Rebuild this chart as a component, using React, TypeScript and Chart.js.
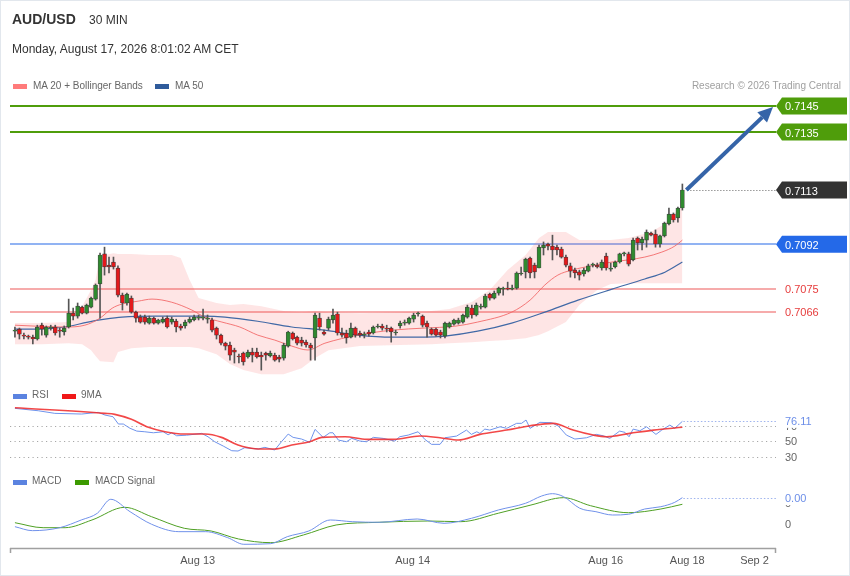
import React, { useEffect, useRef } from "react";
import { Chart, registerables } from "chart.js";

Chart.register(...registerables);

const FONT = '"Liberation Sans", Arial, Helvetica, sans-serif';

// ---------------- Candles (AUD/USD, 30 min) ----------------
const opens = [
  0.70587, 0.70595, 0.70572, 0.70568, 0.70564, 0.70557, 0.70610, 0.70572, 0.70599, 0.70603,
  0.70591, 0.70584, 0.70603, 0.70656, 0.70645, 0.70679, 0.70656, 0.70679, 0.70710, 0.70768,
  0.70883, 0.70840, 0.70852, 0.70829, 0.70725, 0.70695, 0.70714, 0.70660, 0.70641, 0.70641,
  0.70618, 0.70637, 0.70618, 0.70622, 0.70637, 0.70622, 0.70626, 0.70607, 0.70607, 0.70622,
  0.70630, 0.70637, 0.70637, 0.70633, 0.70630, 0.70599, 0.70572, 0.70541, 0.70534, 0.70515,
  0.70492, 0.70503, 0.70488, 0.70507, 0.70507, 0.70495, 0.70503, 0.70492, 0.70495, 0.70488,
  0.70484, 0.70530, 0.70580, 0.70564, 0.70553, 0.70545, 0.70534, 0.70561, 0.70637, 0.70584,
  0.70599, 0.70630, 0.70653, 0.70580, 0.70580, 0.70564, 0.70599, 0.70580, 0.70572, 0.70584,
  0.70580, 0.70603, 0.70607, 0.70599, 0.70599, 0.70580, 0.70607, 0.70618, 0.70618, 0.70633,
  0.70653, 0.70645, 0.70618, 0.70595, 0.70595, 0.70584, 0.70568, 0.70603, 0.70614, 0.70618,
  0.70622, 0.70641, 0.70676, 0.70649, 0.70679, 0.70679, 0.70729, 0.70714, 0.70733, 0.70748,
  0.70752, 0.70748, 0.70752, 0.70806, 0.70814, 0.70867, 0.70840, 0.70829, 0.70906, 0.70921,
  0.70913, 0.70909, 0.70902, 0.70871, 0.70837, 0.70821, 0.70814, 0.70806, 0.70817, 0.70840,
  0.70840, 0.70829, 0.70875, 0.70825, 0.70833, 0.70852, 0.70883, 0.70883, 0.70860, 0.70944,
  0.70925, 0.70936, 0.70963, 0.70959, 0.70921, 0.70952, 0.70998, 0.71036, 0.71021, 0.71059,
];
const highs = [
  0.70603, 0.70599, 0.70580, 0.70572, 0.70572, 0.70610, 0.70618, 0.70607, 0.70610, 0.70610,
  0.70599, 0.70607, 0.70710, 0.70676, 0.70695, 0.70683, 0.70691, 0.70718, 0.70768, 0.70886,
  0.70909, 0.70871, 0.70871, 0.70837, 0.70733, 0.70733, 0.70722, 0.70664, 0.70649, 0.70649,
  0.70645, 0.70641, 0.70633, 0.70641, 0.70645, 0.70641, 0.70633, 0.70614, 0.70630, 0.70641,
  0.70649, 0.70649, 0.70672, 0.70649, 0.70637, 0.70603, 0.70576, 0.70545, 0.70545, 0.70522,
  0.70499, 0.70507, 0.70515, 0.70522, 0.70522, 0.70507, 0.70507, 0.70511, 0.70503, 0.70495,
  0.70541, 0.70587, 0.70584, 0.70568, 0.70564, 0.70553, 0.70541, 0.70656, 0.70656, 0.70591,
  0.70641, 0.70672, 0.70660, 0.70599, 0.70591, 0.70618, 0.70603, 0.70587, 0.70584, 0.70591,
  0.70607, 0.70614, 0.70614, 0.70610, 0.70603, 0.70591, 0.70626, 0.70630, 0.70641, 0.70656,
  0.70660, 0.70649, 0.70626, 0.70599, 0.70599, 0.70591, 0.70622, 0.70622, 0.70633, 0.70637,
  0.70653, 0.70687, 0.70687, 0.70695, 0.70691, 0.70729, 0.70733, 0.70741, 0.70756, 0.70756,
  0.70775, 0.70764, 0.70814, 0.70833, 0.70867, 0.70871, 0.70848, 0.70917, 0.70929, 0.70925,
  0.70955, 0.70917, 0.70909, 0.70879, 0.70848, 0.70829, 0.70821, 0.70829, 0.70844, 0.70848,
  0.70848, 0.70860, 0.70886, 0.70848, 0.70856, 0.70886, 0.70890, 0.70890, 0.70944, 0.70948,
  0.70948, 0.70975, 0.70967, 0.70975, 0.70955, 0.71005, 0.71059, 0.71040, 0.71063, 0.71151,
];
const lows = [
  0.70564, 0.70557, 0.70557, 0.70557, 0.70538, 0.70553, 0.70572, 0.70564, 0.70591, 0.70572,
  0.70564, 0.70572, 0.70599, 0.70630, 0.70637, 0.70653, 0.70653, 0.70676, 0.70706, 0.70637,
  0.70802, 0.70810, 0.70825, 0.70718, 0.70668, 0.70687, 0.70656, 0.70622, 0.70618, 0.70614,
  0.70614, 0.70614, 0.70614, 0.70618, 0.70599, 0.70614, 0.70584, 0.70591, 0.70599, 0.70618,
  0.70626, 0.70630, 0.70630, 0.70618, 0.70584, 0.70557, 0.70534, 0.70515, 0.70476, 0.70465,
  0.70465, 0.70457, 0.70484, 0.70469, 0.70484, 0.70438, 0.70476, 0.70488, 0.70472, 0.70469,
  0.70476, 0.70526, 0.70553, 0.70534, 0.70530, 0.70526, 0.70476, 0.70476, 0.70591, 0.70572,
  0.70591, 0.70618, 0.70572, 0.70564, 0.70541, 0.70561, 0.70564, 0.70564, 0.70561, 0.70568,
  0.70576, 0.70599, 0.70591, 0.70584, 0.70545, 0.70572, 0.70599, 0.70610, 0.70614, 0.70622,
  0.70645, 0.70603, 0.70564, 0.70572, 0.70568, 0.70561, 0.70561, 0.70599, 0.70610, 0.70614,
  0.70618, 0.70637, 0.70637, 0.70645, 0.70672, 0.70676, 0.70706, 0.70710, 0.70725, 0.70725,
  0.70745, 0.70745, 0.70748, 0.70802, 0.70791, 0.70791, 0.70791, 0.70829, 0.70879, 0.70898,
  0.70860, 0.70879, 0.70867, 0.70833, 0.70794, 0.70791, 0.70783, 0.70798, 0.70814, 0.70833,
  0.70829, 0.70821, 0.70821, 0.70817, 0.70829, 0.70848, 0.70875, 0.70837, 0.70856, 0.70898,
  0.70898, 0.70909, 0.70952, 0.70909, 0.70909, 0.70948, 0.70994, 0.71005, 0.71005, 0.71051,
];
const closes = [
  0.70591, 0.70576, 0.70568, 0.70564, 0.70557, 0.70603, 0.70595, 0.70603, 0.70603, 0.70580,
  0.70587, 0.70599, 0.70656, 0.70645, 0.70683, 0.70656, 0.70687, 0.70714, 0.70764, 0.70879,
  0.70833, 0.70833, 0.70833, 0.70725, 0.70695, 0.70729, 0.70660, 0.70637, 0.70622, 0.70622,
  0.70637, 0.70618, 0.70630, 0.70633, 0.70603, 0.70633, 0.70603, 0.70599, 0.70622, 0.70633,
  0.70641, 0.70641, 0.70641, 0.70637, 0.70591, 0.70572, 0.70541, 0.70530, 0.70495, 0.70507,
  0.70488, 0.70469, 0.70507, 0.70495, 0.70488, 0.70488, 0.70495, 0.70503, 0.70476, 0.70480,
  0.70534, 0.70584, 0.70557, 0.70541, 0.70541, 0.70534, 0.70522, 0.70649, 0.70603, 0.70576,
  0.70633, 0.70649, 0.70580, 0.70572, 0.70561, 0.70599, 0.70572, 0.70572, 0.70576, 0.70576,
  0.70603, 0.70607, 0.70599, 0.70595, 0.70584, 0.70584, 0.70618, 0.70622, 0.70637, 0.70649,
  0.70656, 0.70610, 0.70603, 0.70576, 0.70572, 0.70572, 0.70618, 0.70618, 0.70630, 0.70630,
  0.70649, 0.70679, 0.70649, 0.70687, 0.70683, 0.70722, 0.70714, 0.70733, 0.70752, 0.70752,
  0.70748, 0.70752, 0.70810, 0.70810, 0.70863, 0.70810, 0.70814, 0.70909, 0.70917, 0.70913,
  0.70898, 0.70898, 0.70871, 0.70840, 0.70817, 0.70810, 0.70802, 0.70821, 0.70837, 0.70844,
  0.70833, 0.70852, 0.70829, 0.70829, 0.70852, 0.70883, 0.70886, 0.70844, 0.70936, 0.70925,
  0.70940, 0.70967, 0.70955, 0.70921, 0.70952, 0.71001, 0.71036, 0.71013, 0.71059, 0.71128,
];

// ---------------- Bollinger Bands (20) ----------------
const bandIdx = [0, 6, 12, 15, 17, 18, 19, 22, 23, 26, 30, 35, 37, 39, 41, 45, 48, 51, 55, 60, 64, 67, 70, 77, 86, 93, 97, 102, 106, 110, 114, 117, 119, 123, 126, 130, 133, 137, 142, 145, 149];
const bandUpper = [
  0.70618, 0.70618, 0.70622, 0.70683, 0.70745, 0.70783, 0.70875, 0.70886, 0.70883, 0.70883,
  0.70879, 0.70879, 0.70867, 0.70783, 0.70714, 0.70695, 0.70687, 0.70691, 0.70683, 0.70664,
  0.70660, 0.70664, 0.70660, 0.70656, 0.70660, 0.70664, 0.70672, 0.70699, 0.70745, 0.70821,
  0.70879, 0.70944, 0.70967, 0.70967, 0.70936, 0.70936, 0.70936, 0.70944, 0.70967, 0.70998,
  0.71070,
];
const bandLower = [
  0.70537, 0.70537, 0.70541, 0.70537, 0.70514, 0.70492, 0.70472, 0.70468, 0.70507, 0.70522,
  0.70526, 0.70526, 0.70526, 0.70526, 0.70522, 0.70499, 0.70461, 0.70438, 0.70422, 0.70422,
  0.70445, 0.70484, 0.70514, 0.70530, 0.70534, 0.70537, 0.70541, 0.70545, 0.70549, 0.70553,
  0.70560, 0.70572, 0.70587, 0.70622, 0.70687, 0.70745, 0.70768, 0.70771, 0.70771, 0.70771,
  0.70771,
];

// ---------------- Moving averages ----------------
const ma20Idx = [0, 5.1, 11.2, 15.6, 19, 21.7, 23.9, 27.5, 30.6, 35, 39.5, 42.4, 46.2, 50.2, 54.2, 58, 61.8, 65.4, 69.2, 76.6, 84.2, 91.5, 98.2, 103.3, 110.9, 115, 118.3, 121.2, 124.3, 129.5, 133.3, 136.8, 140.6, 144.4, 147.3, 149];
const ma20Val = [
  0.70610, 0.70606, 0.70603, 0.70610, 0.70637, 0.70675, 0.70691, 0.70702, 0.70710, 0.70698,
  0.70668, 0.70641, 0.70622, 0.70603, 0.70572, 0.70553, 0.70530, 0.70515, 0.70541, 0.70572,
  0.70591, 0.70599, 0.70606, 0.70622, 0.70660, 0.70706, 0.70764, 0.70802, 0.70821, 0.70840,
  0.70852, 0.70860, 0.70871, 0.70890, 0.70913, 0.70936,
];
const ma50Idx = [0, 5.1, 11.2, 16.3, 20.1, 23.9, 31.3, 42.4, 46.9, 54.2, 61.8, 69.2, 76.6, 84.2, 91.5, 96, 103.3, 110.9, 118.3, 125.7, 133.3, 140.6, 145.1, 149];
const ma50Val = [
  0.70595, 0.70595, 0.70603, 0.70622, 0.70633, 0.70641, 0.70645, 0.70645, 0.70641, 0.70625,
  0.70603, 0.70591, 0.70572, 0.70564, 0.70564, 0.70568, 0.70587, 0.70618, 0.70660, 0.70706,
  0.70748, 0.70787, 0.70813, 0.70852,
];

// ---------------- Levels ----------------
const levelValues = [0.7145, 0.7135, 0.7092, 0.7075, 0.7066];

// ---------------- RSI ----------------
const rsiIdx = [0, 5.2, 8.9, 14.9, 18.6, 20.1, 21.9, 23.1, 24.2, 25.7, 27.2, 29, 30.9, 33.1, 34.2, 35, 36.1, 38.3, 41.7, 43.1, 44.6, 46.5, 48.4, 49.8, 51.3, 54.3, 55.8, 58, 59.5, 61, 62.1, 64, 65.8, 67, 68.8, 70.3, 71, 72.2, 74, 75.2, 77, 78.5, 80, 82.2, 84.8, 85.9, 87.8, 90, 91.5, 93, 94.9, 96, 98.6, 100.8, 101.9, 103.1, 103.8, 104.9, 106, 108.3, 109.8, 112, 113.1, 114.1, 115, 117.2, 119.8, 121.3, 123.1, 125, 127.6, 129.8, 131.3, 132.8, 135, 136.2, 137.1, 138, 139.5, 141, 143.1, 144.4, 146.2, 147.3, 149];
const rsiVal = [93, 89.9, 86.5, 85.6, 87.8, 84.3, 82.1, 72.6, 72.6, 67, 63.4, 62.5, 61.2, 62.5, 58.6, 61.2, 57.3, 58, 60.4, 56, 49.5, 43.9, 37.8, 37.4, 41.7, 40, 42.2, 38.7, 49.5, 59.5, 55.2, 53, 48.7, 65.6, 55.2, 61.2, 61.2, 51.7, 49.5, 53.9, 50.4, 49.5, 55.2, 53.9, 50.4, 56, 58.2, 62.5, 52.6, 46.1, 46.1, 54.7, 56.9, 64.7, 59.1, 62.5, 60.4, 66, 64.7, 69, 67, 73.5, 73.5, 77.8, 67, 74.8, 74.3, 70, 58.2, 53, 54.7, 59.1, 57.3, 53.9, 63.4, 61.7, 56, 66, 63.8, 69, 59.1, 64.7, 71.2, 67, 76.11];
const rsiMaIdx = [0, 20.1, 22.3, 26, 29.8, 33.5, 37.9, 42.4, 46.1, 49.8, 53.6, 58, 61.8, 65.8, 68.5, 73.7, 78.5, 84.4, 90.4, 94.9, 99, 103.8, 109.8, 115, 120.2, 124.6, 129.1, 132.1, 137.3, 142.5, 149];
const rsiMaVal = [93.8, 86.5, 85.2, 78.7, 68.3, 62.5, 59.5, 59.5, 55.2, 45.2, 40.4, 40, 45.2, 49.5, 55.2, 56, 52.6, 52.6, 56.9, 54.7, 51.7, 59.1, 64.7, 70.4, 73.5, 64.7, 58.2, 56, 60.4, 64.7, 68.3];
const rsiLevels = [70, 50, 30];

// ---------------- MACD ----------------
const macdIdx = [0, 3.9, 10, 14.8, 18.4, 21.4, 25.7, 30.5, 36.6, 42.6, 47.5, 51.1, 57.1, 60.8, 65.6, 70.4, 75.3, 81.3, 89.8, 95.8, 101.9, 107.9, 114, 117.6, 120, 122.5, 126.1, 129.7, 133.4, 137, 140.6, 144.2, 147.3, 149];
const macdVal = [-0.40e-4, -0.99e-4, -0.55e-4, 0.59e-4, 1.59e-4, 3.66e-4, 1.82e-4, -0.04e-4, -1.14e-4, -1.14e-4, -2.03e-4, -3.01e-4, -2.92e-4, -1.88e-4, -1.04e-4, 0.59e-4, 0.34e-4, 0.25e-4, 0.74e-4, 0.10e-4, 0.84e-4, 2.07e-4, 3.07e-4, 4.15e-4, 4.49e-4, 4.04e-4, 2.33e-4, 1.82e-4, 1.33e-4, 1.44e-4, 2.22e-4, 2.56e-4, 3.21e-4, 3.90e-4];
const signalIdx = [0, 6.3, 11.2, 17.2, 24.5, 30.5, 37.8, 43.8, 49.9, 57.1, 64.4, 71.7, 81.3, 92.2, 99.5, 107.9, 115.2, 122.5, 128.5, 137, 144.2, 149];
const signalVal = [0.19e-4, -0.55e-4, -0.55e-4, 0.59e-4, 2.47e-4, 1.08e-4, -0.64e-4, -1.04e-4, -2.22e-4, -2.77e-4, -1.63e-4, -0.15e-4, 0.25e-4, 0.44e-4, 0.34e-4, 1.59e-4, 2.81e-4, 3.90e-4, 2.71e-4, 1.67e-4, 2.22e-4, 2.92e-4];
const macdTickValues = [0, 3.1e-4];

// ---------------- Time axis ----------------
const xTickIdx = [40.8, 88.8, 131.9, 150.1, 165.1];
const xTickLabels = ["Aug 13", "Aug 14", "Aug 16", "Aug 18", "Sep 2"];

// ---------------- Config (ranges / styles) ----------------
const X_MIN = -1.1;
const X_MAX = 169.9;
const PRICE_MIN = 0.704;
const PRICE_MAX = 0.71492;
const RSI_MIN = 23.1;
const RSI_MAX = 101.3;
const MACD_MIN = -3.56e-4;
const MACD_MAX = 5.48e-4;

const levelStyles = [
  { line: "#4f9d0b", width: 2, tag: "#4f9d0b", text: "#ffffff" },
  { line: "#4f9d0b", width: 2, tag: "#4f9d0b", text: "#ffffff" },
  { line: "#2469e8", width: 1.2, tag: "#2469e8", text: "#ffffff" },
  { line: "rgba(238, 95, 95, 0.7)", width: 1.3, tag: null, text: "#e63c3c" },
  { line: "rgba(238, 95, 95, 0.7)", width: 1.3, tag: null, text: "#e63c3c" },
];

const pts = (xs: number[], ys: number[]) => xs.map((x, k) => ({ x, y: ys[k] }));

function drawTag(ctx: CanvasRenderingContext2D, y: number, left: number, color: string, textColor: string, text: string) {
  const h = 8.5;
  ctx.save();
  ctx.fillStyle = color;
  ctx.beginPath();
  ctx.moveTo(left, y);
  ctx.lineTo(left + 6, y - h);
  ctx.lineTo(847, y - h);
  ctx.lineTo(847, y + h);
  ctx.lineTo(left + 6, y + h);
  ctx.closePath();
  ctx.fill();
  ctx.fillStyle = textColor;
  ctx.font = `11px ${FONT}`;
  ctx.textAlign = "left";
  ctx.textBaseline = "alphabetic";
  ctx.fillText(text, left + 9, y + 4.5);
  ctx.restore();
}

function dotted(ctx: CanvasRenderingContext2D, x0: number, x1: number, y: number, color: string, dash: number[]) {
  ctx.save();
  ctx.strokeStyle = color;
  ctx.lineWidth = 1;
  ctx.setLineDash(dash);
  ctx.beginPath();
  ctx.moveTo(x0, Math.round(y) + 0.5);
  ctx.lineTo(x1, Math.round(y) + 0.5);
  ctx.stroke();
  ctx.restore();
}

function sideLabel(ctx: CanvasRenderingContext2D, x: number, y: number, text: string, color: string) {
  ctx.save();
  ctx.font = `11px ${FONT}`;
  ctx.fillStyle = color;
  ctx.textAlign = "left";
  ctx.textBaseline = "alphabetic";
  ctx.fillText(text, x, y + 4);
  ctx.restore();
}

const mainDecor = {
  id: "mainDecor",
  beforeDatasetsDraw(chart: any) {
    const { ctx, chartArea: a, scales } = chart;
    levelValues.forEach((v, k) => {
      const st = levelStyles[k];
      const py = Math.round(scales.y.getPixelForValue(v));
      ctx.save();
      ctx.strokeStyle = st.line;
      ctx.lineWidth = st.width;
      ctx.beginPath();
      ctx.moveTo(a.left, py);
      ctx.lineTo(a.right, py);
      ctx.stroke();
      ctx.restore();
    });
  },
  afterDatasetsDraw(chart: any) {
    const { ctx, chartArea: a, scales } = chart;
    const last = closes.length - 1;
    const lx = scales.x.getPixelForValue(last);
    const ly = scales.y.getPixelForValue(closes[last]);
    dotted(ctx, lx + 5, a.right, ly, "#666", [1, 2]);
    const x0 = lx + 4;
    const y0 = ly;
    const x1 = a.right - 3;
    const y1 = scales.y.getPixelForValue(levelValues[0]) + 1;
    const ang = Math.atan2(y1 - y0, x1 - x0);
    const headLen = 15;
    const headW = 7;
    const bx = x1 - headLen * Math.cos(ang);
    const by = y1 - headLen * Math.sin(ang);
    ctx.save();
    ctx.strokeStyle = "#3564a8";
    ctx.fillStyle = "#3564a8";
    ctx.lineWidth = 4;
    ctx.lineCap = "butt";
    ctx.beginPath();
    ctx.moveTo(x0, y0);
    ctx.lineTo(bx, by);
    ctx.stroke();
    ctx.beginPath();
    ctx.moveTo(x1, y1);
    ctx.lineTo(bx + headW * Math.sin(ang), by - headW * Math.cos(ang));
    ctx.lineTo(bx - headW * Math.sin(ang), by + headW * Math.cos(ang));
    ctx.closePath();
    ctx.fill();
    ctx.restore();
    levelValues.forEach((v, k) => {
      const st = levelStyles[k];
      const py = scales.y.getPixelForValue(v);
      if (st.tag) drawTag(ctx, py, a.right, st.tag, st.text, v.toFixed(4));
      else sideLabel(ctx, a.right + 9, py, v.toFixed(4), st.text);
    });
    drawTag(ctx, ly, a.right, "#333333", "#ffffff", closes[last].toFixed(4));
  },
};

const rsiDecor = {
  id: "rsiDecor",
  beforeDatasetsDraw(chart: any) {
    const { ctx, chartArea: a, scales } = chart;
    rsiLevels.forEach((v) => dotted(ctx, a.left, a.right, scales.y.getPixelForValue(v), "#a8a8a8", [1.2, 3.3]));
  },
  afterDraw(chart: any) {
    const { ctx, chartArea: a, scales } = chart;
    rsiLevels.forEach((v) => sideLabel(ctx, a.right + 9, scales.y.getPixelForValue(v), String(v), "#666"));
    const k = rsiVal.length - 1;
    const ly = scales.y.getPixelForValue(rsiVal[k]);
    dotted(ctx, scales.x.getPixelForValue(rsiIdx[k]) + 1, a.right, ly, "#9fb4ee", [1.5, 2]);
    ctx.save();
    ctx.fillStyle = "#ffffff";
    ctx.fillRect(a.right + 4, ly - 7, 50, 13.5);
    ctx.restore();
    sideLabel(ctx, a.right + 9, ly, rsiVal[k].toFixed(2), "#6c8ee8");
  },
};

const macdDecor = {
  id: "macdDecor",
  afterDraw(chart: any) {
    const { ctx, chartArea: a, scales } = chart;
    macdTickValues.forEach((v) => sideLabel(ctx, a.right + 9, scales.y.getPixelForValue(v), "0", "#666"));
    const k = macdVal.length - 1;
    const ly = scales.y.getPixelForValue(macdVal[k]);
    dotted(ctx, scales.x.getPixelForValue(macdIdx[k]) + 1, a.right, ly, "#9fb4ee", [1.5, 2]);
    ctx.save();
    ctx.fillStyle = "#ffffff";
    ctx.fillRect(a.right + 4, ly - 7, 50, 14.5);
    ctx.restore();
    sideLabel(ctx, a.right + 9, ly, macdVal[k].toFixed(2), "#6c8ee8");
    ctx.save();
    ctx.strokeStyle = "#a0a0a0";
    ctx.lineWidth = 1.5;
    ctx.beginPath();
    ctx.moveTo(a.left, a.bottom + 0.5);
    ctx.lineTo(a.right, a.bottom + 0.5);
    ctx.moveTo(a.left + 0.5, a.bottom);
    ctx.lineTo(a.left + 0.5, a.bottom + 5);
    ctx.moveTo(a.right - 0.5, a.bottom);
    ctx.lineTo(a.right - 0.5, a.bottom + 5);
    ctx.stroke();
    ctx.font = `11px ${FONT}`;
    ctx.fillStyle = "#555";
    ctx.textAlign = "center";
    ctx.textBaseline = "alphabetic";
    xTickIdx.forEach((v, i) => ctx.fillText(xTickLabels[i], scales.x.getPixelForValue(v), a.bottom + 16));
    ctx.restore();
  },
};

function baseOptions(padTop: number, padBottom: number, yMin: number, yMax: number): any {
  return {
    animation: false,
    responsive: true,
    maintainAspectRatio: false,
    events: [],
    layout: { padding: { left: 10, right: 74, top: padTop, bottom: padBottom } },
    scales: {
      x: { type: "linear", min: X_MIN, max: X_MAX, display: false, offset: false },
      y: { type: "linear", min: yMin, max: yMax, display: false },
    },
    plugins: { legend: { display: false }, tooltip: { enabled: false } },
  };
}

const Txt = ({ x, base, size, color, bold, right, children }: any) => (
  <div
    style={{
      position: "absolute",
      left: right ? undefined : x,
      right: right ? 850 - x : undefined,
      top: base - 0.8465 * size,
      fontSize: size,
      lineHeight: `${size}px`,
      fontWeight: bold ? 700 : 400,
      color,
      whiteSpace: "nowrap",
      fontFamily: FONT,
    }}
  >
    {children}
  </div>
);

const Swatch = ({ x, y, color }: any) => (
  <div style={{ position: "absolute", left: x, top: y, width: 14, height: 5, background: color }} />
);

export default function App() {
  const mainRef = useRef<HTMLCanvasElement>(null);
  const rsiRef = useRef<HTMLCanvasElement>(null);
  const macdRef = useRef<HTMLCanvasElement>(null);

  useEffect(() => {
    const candleIdx = opens.map((_, i) => i);
    const main = new Chart(mainRef.current as HTMLCanvasElement, {
      type: "bar",
      data: {
        datasets: [
          {
            type: "line",
            data: pts(bandIdx, bandUpper),
            borderWidth: 0,
            borderColor: "rgba(0,0,0,0)",
            pointRadius: 0,
            fill: false,
            order: 6,
          },
          {
            type: "line",
            data: pts(bandIdx, bandLower),
            borderWidth: 0,
            borderColor: "rgba(0,0,0,0)",
            backgroundColor: "rgba(250, 95, 95, 0.16)",
            pointRadius: 0,
            fill: "-1",
            order: 5,
          },
          {
            type: "line",
            data: pts(ma20Idx, ma20Val),
            borderColor: "rgba(242, 100, 100, 0.85)",
            borderWidth: 1,
            pointRadius: 0,
            cubicInterpolationMode: "monotone",
            fill: false,
            order: 3,
          },
          {
            type: "line",
            data: pts(ma50Idx, ma50Val),
            borderColor: "#4169a6",
            borderWidth: 1.2,
            pointRadius: 0,
            cubicInterpolationMode: "monotone",
            fill: false,
            order: 3,
          },
          {
            type: "bar",
            data: candleIdx.map((i) => ({ x: i, y: [lows[i], highs[i]] })),
            backgroundColor: "#555555",
            barThickness: 1,
            grouped: false,
            order: 2,
          },
          {
            type: "bar",
            data: candleIdx.map((i) => ({ x: i, y: [opens[i], closes[i]] })),
            backgroundColor: (c: any) => (closes[c.dataIndex] >= opens[c.dataIndex] ? "#2f8a2f" : "#e3191b"),
            borderColor: "rgba(45,45,45,0.85)",
            borderWidth: 0.7,
            borderSkipped: false,
            barThickness: 4,
            minBarLength: 1,
            grouped: false,
            order: 1,
          },
        ] as any,
      },
      options: baseOptions(95, 10, PRICE_MIN, PRICE_MAX),
      plugins: [mainDecor],
    });

    const rsi = new Chart(rsiRef.current as HTMLCanvasElement, {
      type: "line",
      data: {
        datasets: [
          {
            data: pts(rsiIdx, rsiVal),
            borderColor: "#6e93ec",
            borderWidth: 1,
            pointRadius: 0,
            fill: false,
            order: 2,
          },
          {
            data: pts(rsiMaIdx, rsiMaVal),
            borderColor: "rgba(240, 40, 40, 0.85)",
            borderWidth: 1.6,
            pointRadius: 0,
            cubicInterpolationMode: "monotone",
            fill: false,
            order: 1,
          },
        ] as any,
      },
      options: baseOptions(2, 3, RSI_MIN, RSI_MAX),
      plugins: [rsiDecor],
    });

    const macd = new Chart(macdRef.current as HTMLCanvasElement, {
      type: "line",
      data: {
        datasets: [
          {
            data: pts(signalIdx, signalVal),
            borderColor: "#4fa024",
            borderWidth: 1,
            pointRadius: 0,
            cubicInterpolationMode: "monotone",
            fill: false,
            order: 2,
          },
          {
            data: pts(macdIdx, macdVal),
            borderColor: "#7091ea",
            borderWidth: 1,
            pointRadius: 0,
            cubicInterpolationMode: "monotone",
            fill: false,
            order: 1,
          },
        ] as any,
      },
      options: baseOptions(17, 28, MACD_MIN, MACD_MAX),
      plugins: [macdDecor],
    });

    return () => {
      main.destroy();
      rsi.destroy();
      macd.destroy();
    };
  }, []);

  return (
    <div
      style={{
        position: "absolute",
        left: 0,
        top: 0,
        width: 850,
        height: 576,
        background: "#ffffff",
        overflow: "hidden",
        fontFamily: FONT,
      }}
    >
      <div style={{ position: "absolute", left: 0, top: 0, width: 850, height: 390 }}>
        <canvas ref={mainRef} />
      </div>
      <div style={{ position: "absolute", left: 0, top: 400, width: 850, height: 65 }}>
        <canvas ref={rsiRef} />
      </div>
      <div style={{ position: "absolute", left: 0, top: 470, width: 850, height: 106 }}>
        <canvas ref={macdRef} />
      </div>

      <Txt x={12} base={24} size={14} color="#333" bold>AUD/USD</Txt>
      <Txt x={89} base={24} size={12} color="#333">30 MIN</Txt>
      <Txt x={12} base={53.3} size={12} color="#333">Monday, August 17, 2026 8:01:02 AM CET</Txt>

      <Swatch x={13} y={84} color="#ff7b7b" />
      <Txt x={33} base={89.3} size={10} color="#666">MA 20 + Bollinger Bands</Txt>
      <Swatch x={155} y={84} color="#2f5b9b" />
      <Txt x={175} base={89.3} size={10} color="#666">MA 50</Txt>
      <Txt x={841} base={89.3} size={10} color="#a0a0a0" right>Research © 2026 Trading Central</Txt>

      <Swatch x={13} y={393.5} color="#5b83e0" />
      <Txt x={32} base={398.3} size={10} color="#666">RSI</Txt>
      <Swatch x={62} y={393.5} color="#f01818" />
      <Txt x={81} base={398.3} size={10} color="#666">9MA</Txt>

      <Swatch x={13} y={479.5} color="#5b83e0" />
      <Txt x={32} base={484.3} size={10} color="#666">MACD</Txt>
      <Swatch x={75} y={479.5} color="#3c9a00" />
      <Txt x={95} base={484.3} size={10} color="#666">MACD Signal</Txt>

      <div
        style={{
          position: "absolute",
          left: 0,
          top: 0,
          width: 850,
          height: 576,
          boxSizing: "border-box",
          border: "1px solid #e2e7ed",
          pointerEvents: "none",
        }}
      />
    </div>
  );
}
